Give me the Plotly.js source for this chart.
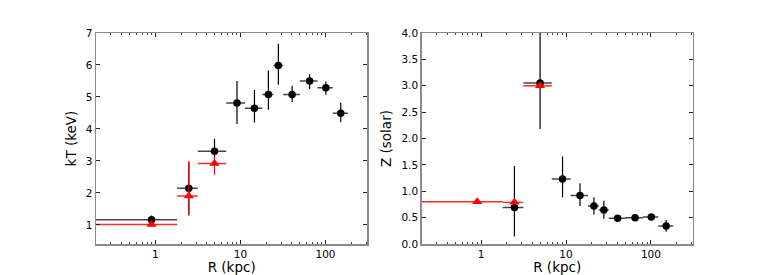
<!DOCTYPE html>
<html>
<head>
<meta charset="utf-8">
<script src="https://cdn.plot.ly/plotly-3.0.1.min.js"></script>
<style>html,body{margin:0;padding:0;background:#fff;}#chart{width:770px;height:275px;}</style>
</head>
<body>
<div id="chart"></div>
<script>
// Radial bins (kpc)
const R      = [0.9, 2.47, 4.95, 9.1, 14.6, 21.3, 27.9, 40.5, 65, 101, 151];
const R_lo   = [0.1, 1.8, 3.15, 6.8, 11.3, 18.1, 24.4, 31.8, 49.8, 80.5, 122];
const R_hi   = [1.8, 3.15, 6.8, 11.3, 18.1, 24.4, 31.8, 49.8, 80.5, 122, 183];

// Temperature (keV), black series
const kT     = [1.16, 2.14, 3.30, 4.81, 4.65, 5.08, 5.98, 5.08, 5.50, 5.29, 4.49];
const kT_ep  = [0.13, 0.84, 0.39, 0.69, 0.57, 0.75, 0.68, 0.27, 0.21, 0.19, 0.33];
const kT_em  = [0.10, 0.85, 0.40, 0.66, 0.45, 0.48, 0.60, 0.24, 0.25, 0.22, 0.28];

// Temperature (keV), red series (inner three bins)
const R_red    = [0.9, 2.47, 4.95];
const Rlo_red  = [0.1, 1.8, 3.15];
const Rhi_red  = [1.8, 3.15, 6.8];
const kT_red   = [1.01, 1.90, 2.92];
const kTr_ep   = [0.05, 1.07, 0.20];
const kTr_em   = [0.05, 0.56, 0.35];

// Metallicity (solar), black series
const Z      = [null, 0.69, 3.05, 1.23, 0.92, 0.72, 0.645, 0.49, 0.50, 0.51, 0.34];
const Z_ep   = [0, 0.79, 1.50, 0.43, 0.23, 0.165, 0.175, 0.05, 0.03, 0.03, 0.115];
const Z_em   = [0, 0.55, 0.87, 0.35, 0.20, 0.16, 0.165, 0.05, 0.03, 0.03, 0.11];

// Metallicity (solar), red series
const Z_red  = [0.80, 0.79, 3.00];
const Zr_ep  = [0.03, 0.03, 0.03];
const Zr_em  = [0.03, 0.03, 0.03];

const xp = R.map((r,i)=>R_hi[i]-r), xm = R.map((r,i)=>r-R_lo[i]);
const xpr = R_red.map((r,i)=>Rhi_red[i]-r), xmr = R_red.map((r,i)=>r-Rlo_red[i]);

function blk(y, ep, em, xa, ya){
  return {x:R, y:y, type:'scatter', mode:'markers', xaxis:xa, yaxis:ya,
    marker:{symbol:'circle', size:7.5, color:'#000'},
    error_x:{type:'data', symmetric:false, array:xp, arrayminus:xm, color:'#444', thickness:1.5, width:0},
    error_y:{type:'data', symmetric:false, array:ep, arrayminus:em, color:'#000', thickness:1.2, width:0},
    showlegend:false, hoverinfo:'skip'};
}
function red(y, ep, em, xa, ya){
  return {x:R_red, y:y, type:'scatter', mode:'markers', xaxis:xa, yaxis:ya,
    marker:{symbol:'triangle-up', size:9, color:'#ff0000'},
    error_x:{type:'data', symmetric:false, array:xpr, arrayminus:xmr, color:'#ff2a2a', thickness:1.4, width:0},
    error_y:{type:'data', symmetric:false, array:ep, arrayminus:em, color:'#ff0000', thickness:1.2, width:0},
    showlegend:false, hoverinfo:'skip'};
}

const data = [
  blk(kT, kT_ep, kT_em, 'x', 'y'),
  red(kT_red, kTr_ep, kTr_em, 'x', 'y'),
  blk(Z, Z_ep, Z_em, 'x2', 'y2'),
  red(Z_red, Zr_ep, Zr_em, 'x2', 'y2')
];

const font = {family:'DejaVu Sans, sans-serif', size:10.5, color:'#000'};
const xcommon = {
  type:'log', range:[Math.log10(0.2), Math.log10(310)],
  tickvals:[1,10,100], ticktext:['1','10','100'],
  ticks:'inside', ticklen:4, tickwidth:1, tickcolor:'#222',
  minor:{ticks:'inside', ticklen:2, tickwidth:1, tickcolor:'#444', tickvals:[0.2,0.3,0.4,0.5,0.6,0.7,0.8,0.9,2,3,4,5,6,7,8,9,20,30,40,50,60,70,80,90,200,300]},
  showline:true, linecolor:'#8a8a8a', linewidth:1.5, mirror:'ticks',
  showgrid:false, zeroline:false, tickfont:font,
  title:{text:'R (kpc)', font:{family:'DejaVu Sans, sans-serif', size:13.5, color:'#000'}, standoff:3}
};
const ycommon = {
  ticks:'inside', ticklen:4, tickwidth:1, tickcolor:'#222',
  showline:true, linecolor:'#8a8a8a', linewidth:1.5, mirror:'ticks',
  showgrid:false, zeroline:false, tickfont:font
};

const layout = {
  width:770, height:275,
  margin:{l:0, r:0, t:0, b:0},
  paper_bgcolor:'#fff', plot_bgcolor:'#fff',
  xaxis: Object.assign({}, xcommon, {domain:[96/770, 367.3/770], anchor:'y'}),
  yaxis: Object.assign({}, ycommon, {domain:[1-244/275, 1-33/275], anchor:'x',
    range:[0.4, 7], tickvals:[1,2,3,4,5,6,7], ticktext:['1','2','3','4','5','6','7'],
    title:{text:'kT (keV)', font:{family:'DejaVu Sans, sans-serif', size:13.5, color:'#000'}, standoff:6}}),
  xaxis2: Object.assign({}, xcommon, {domain:[421.7/770, 692.7/770], anchor:'y2'}),
  yaxis2: Object.assign({}, ycommon, {domain:[1-244/275, 1-33/275], anchor:'x2',
    range:[0, 4], dtick:0.5, tick0:0, tickformat:'.1f',
    title:{text:'Z (solar)', font:{family:'DejaVu Sans, sans-serif', size:13.5, color:'#000'}, standoff:6}}),
  showlegend:false
};

Plotly.newPlot('chart', data, layout, {staticPlot:true, displayModeBar:false});
</script>
</body>
</html>
